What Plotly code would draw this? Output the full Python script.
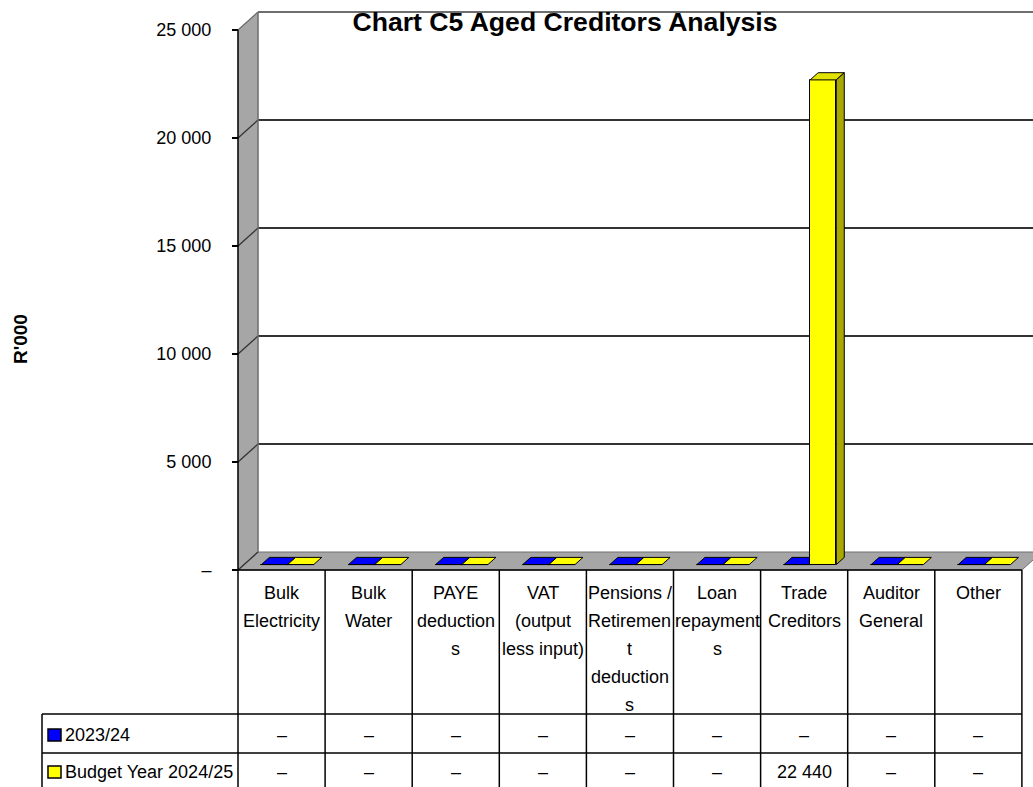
import plotly.graph_objects as go

# ---- data -------------------------------------------------------------
categories = [
    "Bulk Electricity", "Bulk Water", "PAYE deductions",
    "VAT (output less input)", "Pensions / Retirement deductions",
    "Loan repayments", "Trade Creditors", "Auditor General", "Other",
]
# category captions wrapped the way the data table cells wrap them
category_labels = [
    "Bulk<br>Electricity", "Bulk<br>Water", "PAYE<br>deduction<br>s",
    "VAT<br>(output<br>less input)", "Pensions /<br>Retiremen<br>t<br>deduction<br>s",
    "Loan<br>repayment<br>s", "Trade<br>Creditors", "Auditor<br>General", "Other",
]
series_names = ["2023/24", "Budget Year 2024/25"]
values_2023_24 = [0, 0, 0, 0, 0, 0, 0, 0, 0]
values_2024_25 = [0, 0, 0, 0, 0, 0, 22440, 0, 0]
y_tick_values = [0, 5000, 10000, 15000, 20000, 25000]
y_tick_labels = ["–", "5 000", "10 000", "15 000", "20 000", "25 000"]

series_values = [values_2023_24, values_2024_25]
face_colors = ["#0000ff", "#ffff00"]
top_colors = ["#0000e0", "#e2e200"]
side_colors = ["#00009a", "#a8a800"]

# ---- geometry (pixels of the 1033 x 787 page) -------------------------
W, H = 1033, 787
AXIS_LEFT_PX = 238          # front-left corner of the floor
ZERO_PX = 570               # front edge of the floor (value 0)
COL_PX = 87.1               # width of one category
Y_PX = 540 / 25000          # pixels per R'000
Y_MAX = 25000
N = len(categories)


def px_to_x(px):
    return (px - AXIS_LEFT_PX) / COL_PX


def py_to_y(py):
    return (ZERO_PX - py) / Y_PX


DX = 20 / COL_PX            # perspective depth, x
DY = 18 / Y_PX              # perspective depth, y
FRONT, BACK = 0.3, 0.7      # depth fractions of the bar boxes
BAR_W = 0.3

FONT = "Liberation Sans, Arial, sans-serif"
WALL = "#a6a6a6"
EDGE = "#6e6e6e"
GRID = "#333333"


def fmt(v):
    return "–" if v == 0 else f"{v:,}".replace(",", " ")


def poly(points, fill, line_color="black", width=1, layer="below"):
    d = "M " + " L ".join(f"{x},{y}" for x, y in points) + " Z"
    return dict(type="path", path=d, xref="x", yref="y", fillcolor=fill,
                line=dict(color=line_color, width=width), layer=layer)


def seg(x0, y0, x1, y1, color, width, layer="below"):
    return dict(type="line", x0=x0, y0=y0, x1=x1, y1=y1, xref="x", yref="y",
                line=dict(color=color, width=width), layer=layer)


shapes = []

# back wall
shapes.append(dict(type="rect", x0=DX, x1=N + DX, y0=DY, y1=Y_MAX + DY,
                   xref="x", yref="y", fillcolor="white", line=dict(width=0),
                   layer="below"))
# left wall
shapes.append(poly([(0, 0), (DX, DY), (DX, Y_MAX + DY), (0, Y_MAX)], WALL,
                   line_color=WALL, width=0.5))
# floor
shapes.append(poly([(0, 0), (N, 0), (N + DX, DY), (DX, DY)], WALL,
                   line_color=EDGE, width=1))
# gridlines on the back wall and their continuation on the side wall
for v in y_tick_values:
    if 0 < v < Y_MAX:
        shapes.append(seg(DX, v + DY, N + DX, v + DY, GRID, 1.8))
    shapes.append(seg(0, v, DX, v + DY, GRID if v < Y_MAX else EDGE, 1.3))
# outline of the walls
shapes.append(seg(DX, Y_MAX + DY, N + DX, Y_MAX + DY, EDGE, 1.8))
shapes.append(seg(DX, DY, DX, Y_MAX + DY, EDGE, 1.5))
# front axis lines
shapes.append(seg(0, 0, 0, Y_MAX, "black", 1.5))
shapes.append(seg(0, 0, N, 0, "black", 1.5))

# bars: front faces as Bar traces, top and side faces as paths
traces = []
for s, vals in enumerate(series_values):
    xs = []
    for k, v in enumerate(vals):
        xl = k + 0.5 - BAR_W + s * BAR_W
        xr = xl + BAR_W
        xs.append((xl + xr) / 2 + FRONT * DX)
        f = [(xl + FRONT * DX, v + FRONT * DY), (xr + FRONT * DX, v + FRONT * DY),
             (xr + BACK * DX, v + BACK * DY), (xl + BACK * DX, v + BACK * DY)]
        shapes.append(poly(f, top_colors[s] if v > 0 else face_colors[s],
                           width=1, layer="above" if v > 0 else "below"))
        if v > 0:
            side = [(xr + FRONT * DX, FRONT * DY), (xr + BACK * DX, BACK * DY),
                    (xr + BACK * DX, v + BACK * DY), (xr + FRONT * DX, v + FRONT * DY)]
            shapes.append(poly(side, side_colors[s], width=1, layer="above"))
    traces.append(go.Bar(
        x=xs, y=vals, base=[FRONT * DY] * N, width=[BAR_W] * N,
        marker=dict(color=face_colors[s], line=dict(color="black", width=1)),
        name=series_names[s], hoverinfo="skip",
    ))

# ---- data table under the chart --------------------------------------
HEADER_BOTTOM = py_to_y(714)
ROW1_BOTTOM = py_to_y(753)
TABLE_BOTTOM = py_to_y(800)
LEGEND_LEFT = px_to_x(42)

for k in range(N + 1):
    shapes.append(seg(k, 0, k, TABLE_BOTTOM, "black", 1.5, layer="above"))
shapes.append(seg(LEGEND_LEFT, HEADER_BOTTOM, LEGEND_LEFT, TABLE_BOTTOM, "black", 1.5, "above"))
for yb in (HEADER_BOTTOM, ROW1_BOTTOM):
    shapes.append(seg(LEGEND_LEFT, yb, N, yb, "black", 1.5, "above"))

annotations = []
text_font = dict(family=FONT, size=18, color="black")
FIRST_LINE_PY = 593
LINE_PITCH_PX = 28
for k, lab in enumerate(category_labels):
    for i, line in enumerate(lab.split("<br>")):
        annotations.append(dict(x=k + 0.5, y=py_to_y(FIRST_LINE_PY + i * LINE_PITCH_PX),
                                text=line, showarrow=False, xanchor="center",
                                yanchor="middle", font=text_font))

row_centres = [py_to_y(735), py_to_y(772)]
for s, vals in enumerate(series_values):
    for k, v in enumerate(vals):
        annotations.append(dict(x=k + 0.5, y=row_centres[s], text=fmt(v),
                                showarrow=False, xanchor="center", yanchor="middle",
                                font=text_font))
    # legend key in the first column
    shapes.append(dict(type="rect", x0=px_to_x(48), x1=px_to_x(61),
                       y0=row_centres[s] - 6 / Y_PX, y1=row_centres[s] + 6 / Y_PX,
                       xref="x", yref="y", fillcolor=face_colors[s],
                       line=dict(color="black", width=1.5), layer="above"))
    annotations.append(dict(x=px_to_x(63), y=row_centres[s], text=series_names[s],
                            showarrow=False, xanchor="left", yanchor="middle",
                            font=text_font))

# axis title
annotations.append(dict(x=px_to_x(20), y=py_to_y(339), text="<b>R'000</b>",
                        textangle=-90, showarrow=False, xanchor="center",
                        yanchor="middle", font=dict(family=FONT, size=19, color="black")))

fig = go.Figure(traces)
fig.update_layout(
    width=W, height=H,
    margin=dict(l=0, r=0, t=0, b=0, autoexpand=False),
    paper_bgcolor="white", plot_bgcolor="white",
    showlegend=False, barmode="overlay", bargap=0,
    title=dict(text="<b>Chart C5 Aged Creditors Analysis</b>",
               x=565 / W, xref="paper", xanchor="center",
               y=1 - 22 / H, yref="container", yanchor="middle",
               font=dict(family=FONT, size=26.6, color="black")),
    xaxis=dict(range=[px_to_x(0), px_to_x(W)], visible=False, fixedrange=True),
    yaxis=dict(range=[py_to_y(H), py_to_y(0)], anchor="free",
               position=AXIS_LEFT_PX / W, tickvals=y_tick_values,
               ticktext=y_tick_labels, ticks="outside", ticklen=6,
               tickwidth=1.5, tickcolor="black", ticklabelstandoff=17,
               showgrid=False, zeroline=False, showline=False,
               tickfont=dict(family=FONT, size=18, color="black"),
               fixedrange=True),
    shapes=shapes,
    annotations=annotations,
)

fig.write_html("out.html")
